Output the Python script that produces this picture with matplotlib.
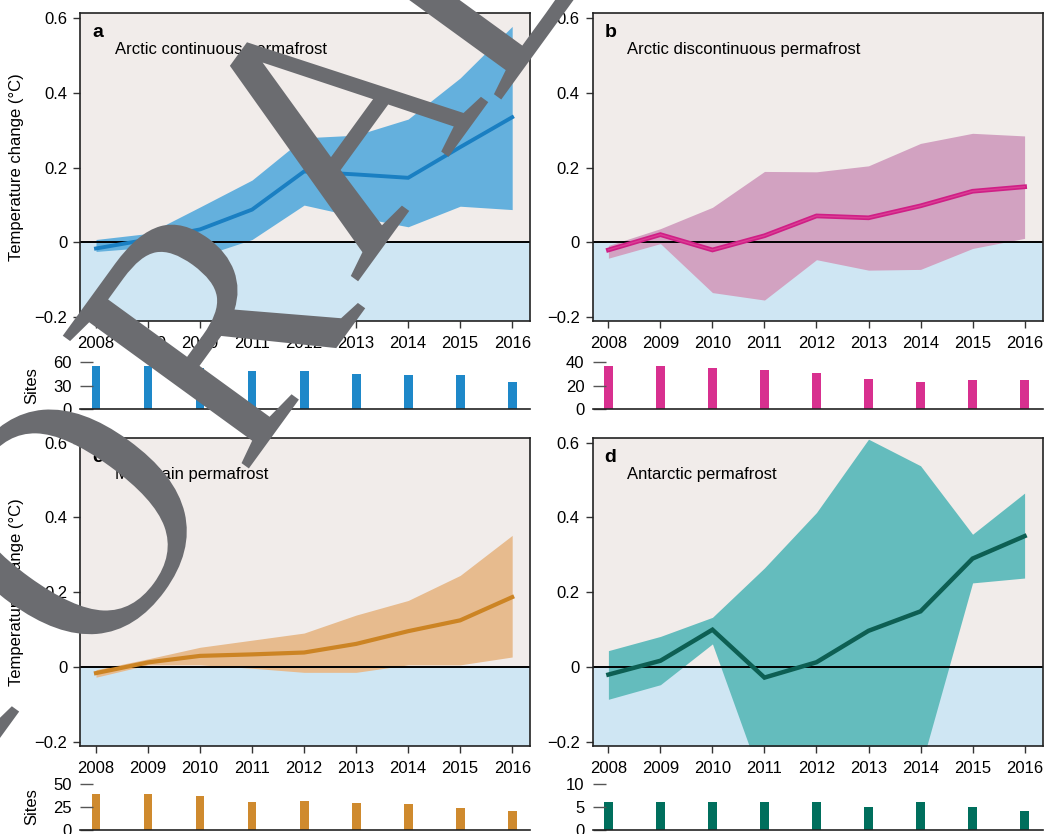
import matplotlib
matplotlib.use('Agg')
import matplotlib.pyplot as plt
import numpy as np
from matplotlib.textpath import TextPath
from matplotlib.font_manager import FontProperties
from matplotlib.patches import PathPatch
from matplotlib.transforms import Affine2D

plt.rcParams['font.family'] = ['Liberation Sans', 'DejaVu Sans']
plt.rcParams['font.size'] = 12
plt.rcParams['axes.unicode_minus'] = True

years = [2008, 2009, 2010, 2011, 2012, 2013, 2014, 2015, 2016]

# panel a - Arctic continuous permafrost
a_mean = [-0.016, 0.008, 0.035, 0.088, 0.19, 0.182, 0.173, 0.255, 0.335]
a_upper = [0.008, 0.024, 0.095, 0.167, 0.28, 0.287, 0.33, 0.44, 0.578]
a_lower = [-0.024, -0.013, -0.038, 0.008, 0.1, 0.069, 0.042, 0.097, 0.088]
a_sites = [55, 55, 52, 49, 49, 45, 44, 44, 35]

# panel b - Arctic discontinuous permafrost
b_mean = [-0.02, 0.021, -0.02, 0.018, 0.071, 0.066, 0.098, 0.137, 0.149]
b_upper = [-0.008, 0.037, 0.094, 0.19, 0.189, 0.205, 0.265, 0.292, 0.285]
b_lower = [-0.042, -0.003, -0.134, -0.154, -0.046, -0.074, -0.072, -0.016, 0.011]
b_sites = [37, 37, 35, 33, 31, 26, 23.5, 25, 25]

# panel c - Mountain permafrost
c_mean = [-0.016, 0.0125, 0.03, 0.034, 0.039, 0.062, 0.096, 0.125, 0.187]
c_upper = [-0.007, 0.022, 0.053, 0.072, 0.091, 0.139, 0.178, 0.245, 0.352]
c_lower = [-0.027, 0.006, 0.006, -0.003, -0.014, -0.014, 0.006, 0.006, 0.027]
c_sites = [39, 39, 37, 30, 31, 29, 28, 24, 21]

# panel d - Antarctic permafrost
d_mean = [-0.02, 0.017, 0.1, -0.028, 0.013, 0.097, 0.149, 0.29, 0.35]
d_upper = [0.044, 0.082, 0.133, 0.265, 0.413, 0.609, 0.538, 0.355, 0.465]
d_lower = [-0.086, -0.047, 0.062, -0.324, -0.40, -0.40, -0.27, 0.225, 0.238]
d_sites = [6, 6, 6, 6, 6, 5, 6, 5, 4]

temp_ticks = [-0.2, 0, 0.2, 0.4, 0.6]
temp_ticklabels = ['\u22120.2', '0', '0.2', '0.4', '0.6']

panels = [
    dict(letter='a', title='Arctic continuous permafrost', mean=a_mean, upper=a_upper,
         lower=a_lower, sites=a_sites, site_ticks=[0, 30, 60], site_max=60,
         band='#64b0dd', line='#1a7fc2', bar='#1e88c9', lw=2.8, left=True, row=0, col=0),
    dict(letter='b', title='Arctic discontinuous permafrost', mean=b_mean, upper=b_upper,
         lower=b_lower, sites=b_sites, site_ticks=[0, 20, 40], site_max=40,
         band='#d2a2c1', line='#cf1f86', bar='#d8308f', lw=3.4, left=False, row=0, col=1,
         inner='#dc3e95'),
    dict(letter='c', title='Mountain permafrost', mean=c_mean, upper=c_upper,
         lower=c_lower, sites=c_sites, site_ticks=[0, 25, 50], site_max=50,
         band='#e7bb8e', line='#cc8424', bar='#cf8a2e', lw=3.0, left=True, row=1, col=0),
    dict(letter='d', title='Antarctic permafrost', mean=d_mean, upper=d_upper,
         lower=d_lower, sites=d_sites, site_ticks=[0, 5, 10], site_max=10,
         band='#64bcbd', line='#0d5f53', bar='#006f5d', lw=3.2, left=False, row=1, col=1),
]

W, H = 1050, 834
fig = plt.figure(figsize=(W / 100, H / 100), dpi=100)

col_left = [80.4, 592.8]
ax_w = 450
main_top = [13.3, 437.7]
main_bot = [321, 745.7]
bar_top = [362.2, 784]
bar_bot = [409, 829.8]
xlim = (2007.70, 2016.35)
ylim = (-0.21, 0.613)


def fig_rect(x0, top, bottom):
    return [x0 / W, 1 - bottom / H, ax_w / W, (bottom - top) / H]


for p in panels:
    r, c = p['row'], p['col']
    ax = fig.add_axes(fig_rect(col_left[c], main_top[r], main_bot[r]))
    ax.set_facecolor('#f1ecea')
    ax.axhspan(ylim[0], 0, color='#cfe6f3', zorder=0, lw=0)
    ax.fill_between(years, p['lower'], p['upper'], color=p['band'], lw=0, zorder=1)
    ax.axhline(0, color='black', lw=1.4, zorder=2)
    ax.plot(years, p['mean'], color=p['line'], lw=p['lw'], zorder=3,
            solid_joinstyle='miter')
    if 'inner' in p:
        # the magenta line has a slightly lighter core in the original
        ax.plot(years, p['mean'], color=p['inner'], lw=1.0, zorder=4)
    ax.set_xlim(xlim)
    ax.set_ylim(ylim)
    ax.set_xticks(years)
    ax.set_xticklabels([str(y) for y in years])
    ax.set_yticks(temp_ticks)
    ax.set_yticklabels(temp_ticklabels)
    ax.tick_params(direction='out', length=5, width=1, color='#333333',
                   labelsize=12, pad=4.5)
    ax.tick_params(axis='x', pad=6)
    for s in ax.spines.values():
        s.set_linewidth(1.2)
        s.set_color('#222222')
    ax.text(0.026, 0.936, p['letter'], transform=ax.transAxes, fontsize=14,
            fontweight='bold', va='center', ha='left')
    ax.text(0.077, 0.881, p['title'], transform=ax.transAxes, fontsize=12,
            va='center', ha='left')

    bx = fig.add_axes(fig_rect(col_left[c], bar_top[r], bar_bot[r]))
    bx.patch.set_alpha(0)
    bx.bar(years, p['sites'], width=0.17, color=p['bar'], lw=0)
    bx.set_xlim(xlim)
    bx.set_ylim(0, p['site_max'])
    bx.set_xticks([])
    bx.set_yticks(p['site_ticks'])
    bx.tick_params(axis='y', direction='in', length=9, width=1, color='#555555',
                   labelsize=12, pad=6)
    for k in ['top', 'right', 'left']:
        bx.spines[k].set_visible(False)
    bx.spines['bottom'].set_linewidth(1.2)
    bx.spines['bottom'].set_color('#222222')

    if p['left']:
        fig.text(16.7 / W, 1 - (main_top[r] + main_bot[r]) / 2 / H,
                 'Temperature change (\u00b0C)', rotation=90, ha='center', va='center',
                 fontsize=12)
        fig.text(32 / W, 1 - (bar_top[r] + bar_bot[r]) / 2 / H, 'Sites',
                 rotation=90, ha='center', va='center', fontsize=12)

# large grey watermark letters, each glyph placed in pixel space
wm_letters = ['M', 'O', 'R', 'A', 'L']
wm_centers = [(-150, 750), (70, 522), (214, 322), (330, 124), (457, -34)]
wm_mirror = [False, False, False, True, False]
wm_em = 349
wm_rot = 54
wm_sx = 0.9

prop = FontProperties(family='Liberation Serif')
for ch, (tx, ty), mir in zip(wm_letters, wm_centers, wm_mirror):
    tp = TextPath((0, 0), ch, size=wm_em, prop=prop)
    ext = tp.get_extents()
    cx, cy = (ext.x0 + ext.x1) / 2, (ext.y0 + ext.y1) / 2
    trans = (Affine2D().translate(-cx, -cy)
             .scale(-wm_sx if mir else wm_sx, 1)
             .rotate_deg(wm_rot)
             .translate(tx, H - ty))
    fig.add_artist(PathPatch(tp, facecolor='#6b6c70', edgecolor='none',
                             transform=trans, zorder=20))

fig.savefig('out.png', dpi=100)
